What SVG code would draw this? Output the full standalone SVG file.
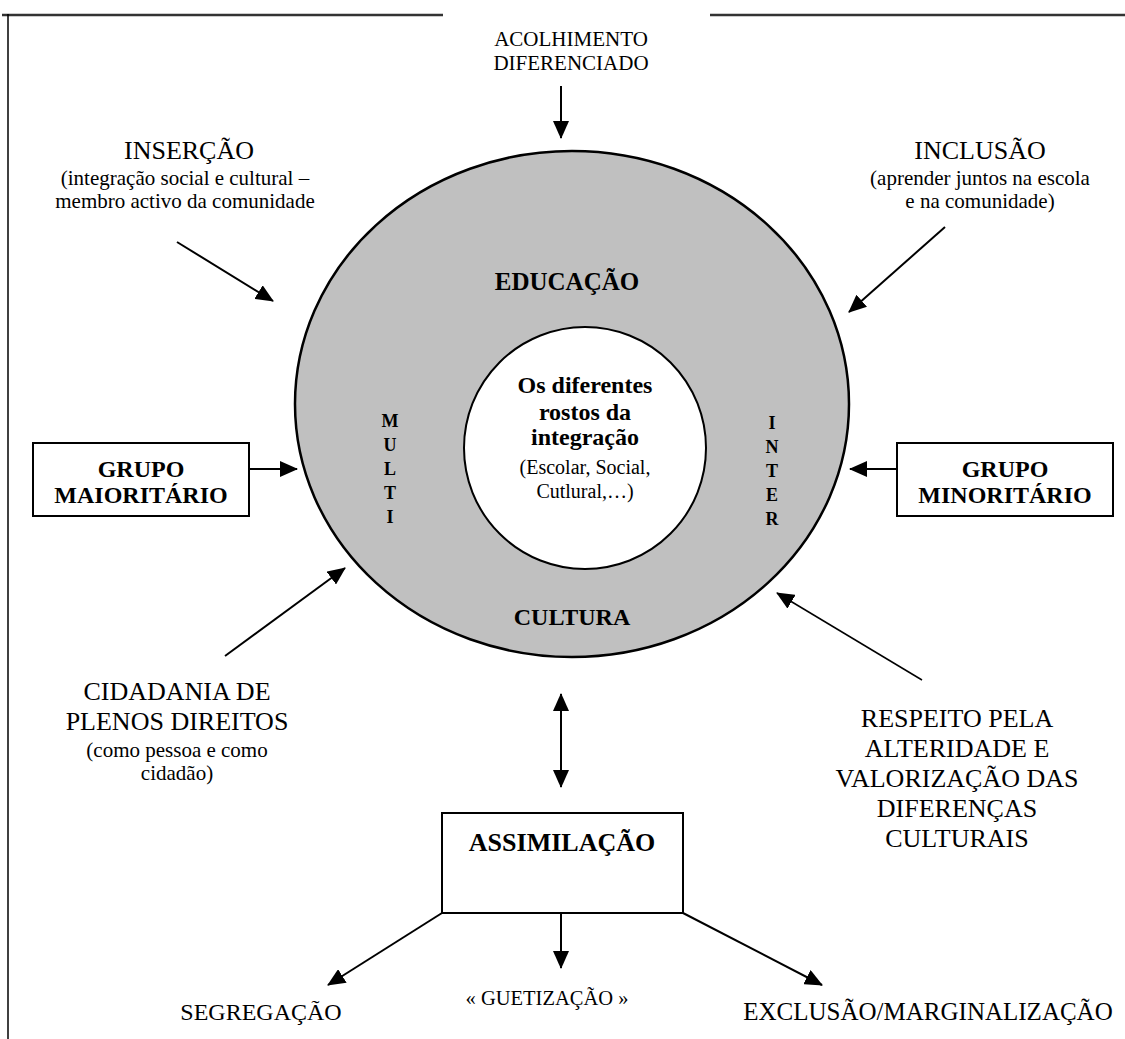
<svg xmlns="http://www.w3.org/2000/svg" width="1125" height="1039" viewBox="0 0 1125 1039">
<style>
text{font-family:"Liberation Serif","Times New Roman",serif;fill:#000;text-anchor:middle}
.m{font-size:26px}
.s{font-size:21px}
.b{font-weight:bold}
.ln{stroke:#000;stroke-width:2;fill:none}
.box{fill:#fff;stroke:#000;stroke-width:2}
</style>
<defs>
<marker id="ah" markerUnits="userSpaceOnUse" markerWidth="18" markerHeight="16" refX="17" refY="8" orient="auto-start-reverse" viewBox="0 0 18 16">
<path d="M0,0 L18,8 L0,16 z" fill="#000"/>
</marker>
</defs>
<g id="frame">
<line x1="2" y1="15" x2="443" y2="15" stroke="#333" stroke-width="2.5"/>
<line x1="710" y1="15" x2="1125" y2="15" stroke="#333" stroke-width="2.5"/>
<line x1="8" y1="14" x2="8" y2="1039" stroke="#000" stroke-width="1.5"/>
</g>
<g id="ellipse">
<ellipse cx="572" cy="404" rx="277" ry="253" fill="#c0c0c0" stroke="#000" stroke-width="2.5"/>
<text class="b" x="567" y="290" style="font-size:25px">EDUCAÇÃO</text>
<text class="b" x="572" y="625" style="font-size:24px">CULTURA</text>
<g style="font-size:18px;font-weight:bold">
<text x="390" y="427">M</text><text x="390" y="451">U</text><text x="390" y="475">L</text><text x="390" y="499">T</text><text x="390" y="523">I</text>
<text x="772" y="429">I</text><text x="772" y="453">N</text><text x="772" y="477">T</text><text x="772" y="501">E</text><text x="772" y="525">R</text>
</g>
</g>
<g id="center">
<circle cx="585" cy="448" r="121" fill="#fff" stroke="#000" stroke-width="2"/>
<text class="b" x="585" y="393" style="font-size:24px">Os diferentes</text>
<text class="b" x="585" y="420" style="font-size:24px">rostos da</text>
<text class="b" x="585" y="445" style="font-size:24px">integração</text>
<text x="585" y="474" style="font-size:20px">(Escolar, Social,</text>
<text x="585" y="498" style="font-size:20px">Cutlural,…)</text>
</g>
<g id="acolhimento">
<text x="571" y="46" style="font-size:21px">ACOLHIMENTO</text>
<text x="571" y="70" style="font-size:21px">DIFERENCIADO</text>
</g>
<g id="insercao">
<text class="m" x="189" y="159">INSERÇÃO</text>
<text class="s" x="185" y="185">(integração social e cultural –</text>
<text class="s" x="185" y="208">membro activo da comunidade</text>
</g>
<g id="inclusao">
<text class="m" x="980" y="159">INCLUSÃO</text>
<text class="s" x="980" y="185">(aprender juntos na escola</text>
<text class="s" x="980" y="208">e na comunidade)</text>
</g>
<g id="maioritario">
<rect class="box" x="33" y="443" width="216" height="73"/>
<text class="b" x="141" y="477" style="font-size:24px">GRUPO</text>
<text class="b" x="141" y="503" style="font-size:24px">MAIORITÁRIO</text>
</g>
<g id="minoritario">
<rect class="box" x="897" y="443" width="216" height="73"/>
<text class="b" x="1005" y="477" style="font-size:24px">GRUPO</text>
<text class="b" x="1005" y="503" style="font-size:24px">MINORITÁRIO</text>
</g>
<g id="cidadania">
<text class="m" x="177" y="700">CIDADANIA DE</text>
<text class="m" x="177" y="730">PLENOS DIREITOS</text>
<text class="s" x="177" y="757">(como pessoa e como</text>
<text class="s" x="177" y="780">cidadão)</text>
</g>
<g id="respeito">
<text class="m" x="957" y="727">RESPEITO PELA</text>
<text class="m" x="957" y="757">ALTERIDADE E</text>
<text class="m" x="957" y="787">VALORIZAÇÃO DAS</text>
<text class="m" x="957" y="817">DIFERENÇAS</text>
<text class="m" x="957" y="847">CULTURAIS</text>
</g>
<g id="assimilacao">
<rect class="box" x="442" y="813" width="241" height="100"/>
<text class="b" x="562" y="851" style="font-size:26px">ASSIMILAÇÃO</text>
</g>
<g id="segregacao"><text x="261" y="1020" style="font-size:24px">SEGREGAÇÃO</text></g>
<g id="guetizacao"><text x="547" y="1005" style="font-size:20.5px">« GUETIZAÇÃO »</text></g>
<g id="exclusao"><text x="928" y="1020" style="font-size:25px">EXCLUSÃO/MARGINALIZAÇÃO</text></g>
<g id="connectors" class="ln">
<line x1="561" y1="86" x2="561" y2="138" marker-end="url(#ah)"/>
<line x1="177" y1="242" x2="273" y2="301" marker-end="url(#ah)"/>
<line x1="945" y1="227" x2="849" y2="312" marker-end="url(#ah)"/>
<line x1="249" y1="469" x2="297" y2="469" marker-end="url(#ah)"/>
<line x1="897" y1="469" x2="850" y2="469" marker-end="url(#ah)"/>
<line x1="225" y1="656" x2="345" y2="568" marker-end="url(#ah)"/>
<line x1="922" y1="680" x2="777" y2="593" stroke-width="1.5" marker-end="url(#ah)"/>
<line x1="561" y1="694" x2="561" y2="787" marker-start="url(#ah)" marker-end="url(#ah)"/>
<line x1="442" y1="913" x2="328" y2="985" marker-end="url(#ah)"/>
<line x1="561" y1="913" x2="561" y2="968" marker-end="url(#ah)"/>
<line x1="683" y1="913" x2="822" y2="985" marker-end="url(#ah)"/>
</g>
</svg>
